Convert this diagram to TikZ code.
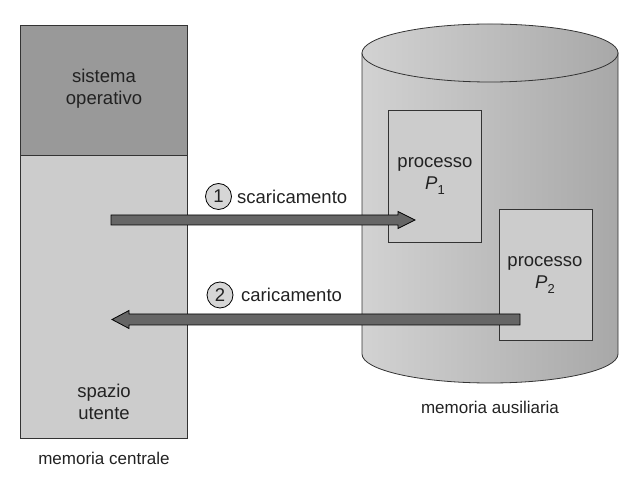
\documentclass[tikz,border=0pt]{standalone}
\usepackage{fontspec}
\setmainfont{Liberation Sans}
\usetikzlibrary{calc}
\definecolor{osgray}{HTML}{999999}
\definecolor{usergray}{HTML}{CCCCCC}
\definecolor{arrowgray}{HTML}{666666}
\definecolor{txt}{HTML}{222222}
\definecolor{cylleft}{HTML}{D2D2D2}
\definecolor{cylright}{HTML}{A8A8A8}
\definecolor{edge}{HTML}{333333}
\newcommand{\procname}[1]{\textit{P}\raisebox{-0.3em}{\fontsize{13}{13}\selectfont #1}}
\begin{document}
\begin{tikzpicture}[x=1pt,y=1pt,
  lbl/.style={text=txt,font=\fontsize{18.5}{22}\selectfont,align=center,inner sep=0pt},
  captext/.style={text=txt,font=\fontsize{17}{20}\selectfont,inner sep=0pt},
  membox/.style={draw=edge,line width=0.8pt},
  procbox/.style={draw=edge,fill=usergray,line width=0.8pt},
  fatarrow/.style={draw=black,fill=arrowgray,line width=0.8pt,line join=miter},
  stepnum/.style={circle,draw=black,fill=usergray!80!white,line width=0.8pt,minimum size=26pt,inner sep=0pt,text=txt,font=\fontsize{18.5}{22}\selectfont}]
\useasboundingbox (0,0) rectangle (639,476);
% central memory
\filldraw[membox,fill=osgray] (20,321) rectangle (187,451);
\filldraw[membox,fill=usergray] (20,38) rectangle (187,321);
\node[lbl] (so) at (104,387) {sistema\\operativo};
\node[lbl] (su) at (104,74) {spazio\\utente};
\node[captext] (mc) at (104,18) {memoria centrale};
% cylinder
\draw[edge,line width=0.8pt,left color=cylleft,right color=cylright]
  (362,423) -- (362,122) arc[start angle=180,end angle=360,x radius=128,y radius=29] -- (618,423) -- cycle;
\draw[edge,line width=0.8pt,left color=cylleft,right color=cylright]
  (490,423) ellipse [x radius=128,y radius=29];
\node[captext] (ma) at (490,69) {memoria ausiliaria};
% processes
\filldraw[procbox] (388,234) rectangle (481,366);
\node[lbl] (p1) at (435,300) {processo\\\procname{1}};
\filldraw[procbox] (499,136) rectangle (592,267);
\node[lbl] (p2) at (545,201) {processo\\\procname{2}};
% arrow 1
\coordinate (a1s) at (111,256);
\coordinate (a1e) at (415,256);
\draw[fatarrow] ($(a1s)+(0,5)$) -- ($(a1e)+(-17,5)$) -- ($(a1e)+(-17,8.5)$) -- (a1e)
  -- ($(a1e)+(-17,-8.5)$) -- ($(a1e)+(-17,-5)$) -- ($(a1s)+(0,-5)$) -- cycle;
% arrow 2
\coordinate (a2s) at (520,156.5);
\coordinate (a2e) at (112,156.5);
\draw[fatarrow] ($(a2s)+(0,5.5)$) -- ($(a2e)+(17,5.5)$) -- ($(a2e)+(17,9)$) -- (a2e)
  -- ($(a2e)+(17,-9)$) -- ($(a2e)+(17,-5.5)$) -- ($(a2s)+(0,-5.5)$) -- cycle;
% labels
\node[stepnum] (n1) at (218.5,279.5) {1};
\node[lbl,anchor=west] (l1) at (237,279.5) {scaricamento};
\node[stepnum] (n2) at (220,181) {2};
\node[lbl,anchor=west] (l2) at (241,181) {caricamento};
\end{tikzpicture}
\end{document}
